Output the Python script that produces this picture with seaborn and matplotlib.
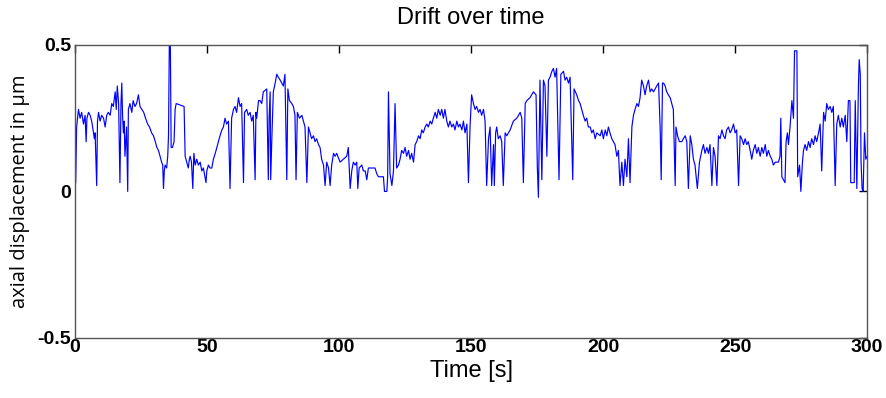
import matplotlib
matplotlib.use("Agg")
import matplotlib.pyplot as plt
import numpy as np
import pandas as pd
import seaborn as sns

# drift trace (time in s, displacement in um)
time_s = [
    0.0, 0.25, 0.6, 1.3, 1.9, 2.5, 3.2, 3.8, 4.2, 4.5, 5.1, 5.7, 6.3, 7.0, 7.3, 7.6, 8.2, 8.5, 8.9, 9.5,
    10.1, 10.8, 11.4, 12.0, 12.6, 13.3, 13.9, 14.5, 15.2, 15.6, 16.0, 16.5, 17.0, 17.4, 17.7, 18.0, 18.3,
    18.6, 18.9, 19.5, 19.95, 20.2, 20.8, 21.5, 22.0, 22.7, 23.3, 24.0, 24.6, 25.3, 26.0, 26.7, 27.5, 28.2,
    29.0, 29.7, 30.4, 31.0, 31.6, 32.2, 32.8, 33.2, 33.5, 33.8, 34.1, 34.7, 35.1, 35.4, 35.7, 36.1, 36.4,
    36.9, 37.5, 37.9, 38.3, 41.3, 41.7, 42.3, 42.9, 43.3, 43.6, 44.1, 44.6, 45.0, 45.5, 46.1, 46.7, 47.4,
    48.0, 48.6, 49.2, 49.6, 49.9, 50.5, 51.1, 51.8, 52.4, 53.1, 53.7, 54.3, 54.9, 55.6, 56.2, 56.8, 57.4,
    58.1, 58.7, 59.3, 60.0, 60.6, 61.2, 61.9, 62.5, 63.1, 63.8, 64.2, 65.0, 65.6, 66.3, 66.9, 67.5, 68.2,
    68.5, 68.8, 69.5, 70.1, 70.7, 71.3, 72.6, 73.2, 73.5, 73.9, 74.1, 74.6, 75.1, 75.8, 76.4, 77.0, 77.7,
    78.3, 78.9, 79.5, 80.2, 80.6, 81.2, 82.1, 82.7, 83.3, 83.7, 84.2, 85.0, 85.9, 86.5, 87.1, 87.8, 88.4,
    89.0, 89.6, 90.3, 90.9, 91.5, 92.2, 92.8, 93.4, 94.1, 94.7, 95.3, 96.0, 96.6, 97.2, 97.9, 98.5, 99.1,
    100.4, 101.6, 102.9, 103.5, 104.2, 104.8, 105.4, 106.1, 106.7, 107.1, 107.6, 108.6, 109.2, 109.9,
    110.5, 111.1, 112.4, 113.6, 114.3, 114.9, 116.8, 117.2, 118.1, 118.4, 118.7, 119.3, 120.0, 120.6,
    121.2, 121.8, 122.5, 123.1, 123.7, 124.4, 125.0, 125.6, 126.3, 126.9, 127.5, 128.2, 128.8, 129.4,
    130.1, 130.7, 131.3, 131.9, 132.6, 133.2, 133.8, 134.5, 135.1, 135.7, 136.4, 137.0, 137.6, 138.3,
    138.9, 139.5, 140.1, 140.8, 141.4, 142.0, 142.7, 143.3, 143.9, 144.6, 145.2, 145.8, 146.5, 147.1,
    147.7, 148.4, 149.0, 149.6, 150.2, 150.9, 151.5, 152.1, 152.8, 153.4, 154.0, 154.7, 155.3, 155.9,
    156.6, 157.2, 157.8, 158.5, 158.8, 159.3, 159.7, 160.3, 161.0, 161.6, 162.2, 162.9, 163.5, 164.8,
    166.0, 167.3, 168.6, 169.2, 169.8, 170.5, 171.1, 172.3, 173.6, 174.6, 175.1, 175.5, 176.1, 176.8,
    177.4, 178.0, 178.7, 179.3, 179.9, 180.6, 181.2, 181.8, 182.4, 183.3, 184.0, 185.0, 185.6, 186.2,
    186.9, 187.5, 188.5, 189.0, 190.0, 190.7, 191.3, 191.9, 192.5, 193.2, 193.8, 194.4, 195.1, 195.7,
    196.3, 197.0, 197.6, 198.9, 199.5, 200.1, 200.8, 201.4, 202.0, 202.6, 203.3, 203.9, 204.5, 205.2,
    205.8, 206.4, 207.1, 207.7, 208.3, 209.0, 209.6, 210.2, 210.9, 211.5, 212.1, 212.8, 213.4, 214.0,
    214.6, 215.3, 215.9, 216.5, 217.2, 217.8, 218.4, 219.1, 220.3, 221.0, 221.6, 222.0, 222.5, 222.9,
    223.5, 224.1, 224.7, 225.4, 226.0, 226.6, 227.3, 227.6, 228.2, 228.9, 229.8, 230.4, 231.1, 231.7,
    232.3, 233.0, 233.6, 234.2, 234.8, 235.7, 236.5, 237.4, 238.0, 238.6, 239.3, 239.9, 240.5, 241.2,
    241.8, 242.4, 243.1, 243.7, 244.3, 245.0, 245.6, 246.2, 246.8, 247.5, 248.1, 248.7, 249.4, 250.0,
    250.6, 251.3, 251.9, 252.5, 253.2, 253.8, 254.4, 255.0, 255.7, 256.3, 256.9, 257.6, 258.2, 258.8,
    259.5, 260.1, 260.7, 261.4, 262.0, 262.6, 263.3, 263.9, 264.5, 265.2, 266.4, 267.0, 267.3, 267.7,
    268.3, 268.9, 269.3, 269.8, 270.2, 270.8, 271.5, 272.1, 272.5, 273.4, 273.7, 274.4, 274.9, 275.5,
    275.9, 276.5, 277.1, 277.8, 278.4, 279.0, 279.7, 280.3, 280.9, 281.6, 282.2, 282.8, 283.5, 284.1,
    284.7, 285.3, 286.0, 286.6, 287.2, 287.9, 288.5, 289.1, 289.8, 290.4, 291.0, 291.7, 292.3, 292.9,
    293.5, 293.8, 295.1, 295.5, 296.1, 296.7, 297.0, 297.4, 297.7, 298.1, 298.5, 299.0, 299.5, 300.0,
]
drift_um = [
    0.24, 0.03, 0.22, 0.28, 0.25, 0.27, 0.23, 0.26, 0.17, 0.25, 0.27, 0.26, 0.24, 0.20, 0.18, 0.20, 0.02, 0.24, 0.27, 0.24,
    0.26, 0.25, 0.22, 0.26, 0.27, 0.26, 0.30, 0.29, 0.34, 0.28, 0.36, 0.30, 0.03, 0.30, 0.37, 0.26, 0.20,
    0.24, 0.12, 0.22, 0.00, 0.28, 0.30, 0.27, 0.31, 0.29, 0.30, 0.33, 0.29, 0.28, 0.27, 0.25, 0.23, 0.22,
    0.20, 0.19, 0.17, 0.15, 0.14, 0.12, 0.10, 0.09, 0.01, 0.07, 0.09, 0.08, 0.12, 0.19, 0.50, 0.50, 0.15,
    0.15, 0.17, 0.28, 0.30, 0.29, 0.12, 0.10, 0.08, 0.11, 0.12, 0.10, 0.01, 0.13, 0.09, 0.11, 0.09, 0.10,
    0.07, 0.08, 0.05, 0.03, 0.07, 0.09, 0.08, 0.08, 0.11, 0.13, 0.15, 0.17, 0.19, 0.21, 0.22, 0.25, 0.23,
    0.24, 0.01, 0.25, 0.28, 0.29, 0.27, 0.32, 0.29, 0.30, 0.03, 0.27, 0.28, 0.26, 0.27, 0.24, 0.26, 0.04,
    0.27, 0.25, 0.31, 0.31, 0.30, 0.34, 0.35, 0.04, 0.25, 0.34, 0.04, 0.20, 0.34, 0.37, 0.40, 0.39, 0.38,
    0.37, 0.36, 0.40, 0.04, 0.35, 0.31, 0.30, 0.29, 0.26, 0.04, 0.27, 0.25, 0.26, 0.24, 0.22, 0.03, 0.22,
    0.20, 0.18, 0.19, 0.17, 0.18, 0.16, 0.15, 0.11, 0.09, 0.02, 0.10, 0.08, 0.02, 0.09, 0.13, 0.12, 0.13,
    0.10, 0.11, 0.12, 0.15, 0.01, 0.07, 0.10, 0.09, 0.10, 0.01, 0.08, 0.09, 0.07, 0.07,
    0.04, 0.08, 0.08, 0.08, 0.06, 0.05, 0.05, 0.00, 0.00, 0.05, 0.34, 0.06, 0.02, 0.07,
    0.30, 0.08, 0.09, 0.11, 0.14, 0.13, 0.15, 0.12, 0.14, 0.11, 0.13, 0.10, 0.16, 0.17,
    0.19, 0.18, 0.21, 0.20, 0.22, 0.23, 0.22, 0.24, 0.23, 0.25, 0.27, 0.25, 0.28, 0.26,
    0.28, 0.25, 0.28, 0.24, 0.22, 0.24, 0.22, 0.23, 0.21, 0.24, 0.22, 0.23, 0.21, 0.24,
    0.20, 0.23, 0.03, 0.22, 0.33, 0.30, 0.28, 0.29, 0.27, 0.28, 0.26, 0.28, 0.24, 0.02,
    0.18, 0.22, 0.02, 0.16, 0.02, 0.20, 0.22, 0.18, 0.19, 0.17, 0.02, 0.20, 0.19, 0.21,
    0.24, 0.25, 0.27, 0.25, 0.03, 0.30, 0.31, 0.32, 0.34, 0.33, 0.08, -0.02, 0.38, 0.04,
    0.38, 0.36, 0.12, 0.38, 0.39, 0.41, 0.42, 0.39, 0.42, 0.04, 0.40, 0.41, 0.38, 0.39,
    0.37, 0.39, 0.04, 0.35, 0.33, 0.31, 0.30, 0.28, 0.26, 0.24, 0.25, 0.22, 0.22, 0.20,
    0.21, 0.18, 0.20, 0.19, 0.21, 0.18, 0.21, 0.19, 0.22, 0.20, 0.18, 0.17, 0.16, 0.12,
    0.14, 0.02, 0.10, 0.02, 0.11, 0.05, 0.18, 0.03, 0.22, 0.26, 0.28, 0.30, 0.29, 0.32,
    0.38, 0.36, 0.33, 0.36, 0.38, 0.34, 0.35, 0.34, 0.36, 0.37, 0.22, 0.04, 0.37, 0.37,
    0.36, 0.34, 0.33, 0.32, 0.30, 0.28, 0.02, 0.22, 0.19, 0.17, 0.17, 0.18, 0.19, 0.17,
    0.01, 0.19, 0.16, 0.11, 0.09, 0.01, 0.10, 0.14, 0.16, 0.13, 0.15, 0.13, 0.16, 0.02,
    0.15, 0.12, 0.02, 0.19, 0.18, 0.21, 0.19, 0.18, 0.21, 0.22, 0.20, 0.21, 0.23, 0.20,
    0.21, 0.02, 0.19, 0.18, 0.16, 0.18, 0.16, 0.17, 0.14, 0.11, 0.14, 0.16, 0.13, 0.15,
    0.12, 0.15, 0.13, 0.16, 0.12, 0.14, 0.12, 0.11, 0.09, 0.10, 0.10, 0.12, 0.25, 0.05,
    0.04, 0.03, 0.17, 0.20, 0.16, 0.22, 0.31, 0.25, 0.48, 0.48, 0.05, 0.09, 0.00, 0.10,
    0.14, 0.16, 0.14, 0.17, 0.15, 0.18, 0.16, 0.19, 0.17, 0.20, 0.23, 0.07, 0.27, 0.24,
    0.30, 0.28, 0.29, 0.27, 0.29, 0.02, 0.23, 0.26, 0.22, 0.25, 0.22, 0.26, 0.17, 0.31,
    0.31, 0.03, 0.03, 0.31, 0.01, 0.36, 0.45, 0.40, 0.10, 0.01, 0.00, 0.20, 0.11, 0.12,
]

x_ticks = [0, 50, 100, 150, 200, 250, 300]
y_ticks = [-0.5, 0, 0.5]

df = pd.DataFrame({"t": time_s, "d": drift_um})

sns.set_style("white")
plt.rcParams["font.family"] = ["Liberation Sans", "DejaVu Sans"]
plt.rcParams["text.color"] = "black"
plt.rcParams["axes.labelcolor"] = "black"

fig = plt.figure(figsize=(8.86, 3.98), dpi=100)
ax = fig.add_axes([0.0847, 0.151, 0.894, 0.736])
sns.lineplot(data=df, x="t", y="d", color="#0000ff", linewidth=0.85, ax=ax, sort=False)

ax.set_xlim(0, 300)
ax.set_ylim(-0.5, 0.5)
ax.set_xticks(x_ticks)
ax.set_yticks(y_ticks)
ax.set_xticklabels([str(v) for v in x_ticks], fontsize=14, fontweight="bold")
ax.set_yticklabels(["-0.5", "0", "0.5"], fontsize=14, fontweight="bold")
ax.tick_params(axis="x", direction="in", length=6, width=1, top=True, pad=1, colors="black")
ax.tick_params(axis="y", direction="in", length=6, width=1, right=True, pad=3, colors="black")
for s in ax.spines.values():
    s.set_color("#555555")
    s.set_linewidth(1.0)

ax.set_title("Drift over time", fontsize=17, pad=15, color="black")
ax.set_xlabel("Time [s]", fontsize=17, labelpad=3)
ax.set_ylabel("axial displacement in µm", fontsize=14.5, labelpad=5, family=["Open Sans", "DejaVu Sans"])

fig.savefig("out.png", dpi=100)
plt.close(fig)
